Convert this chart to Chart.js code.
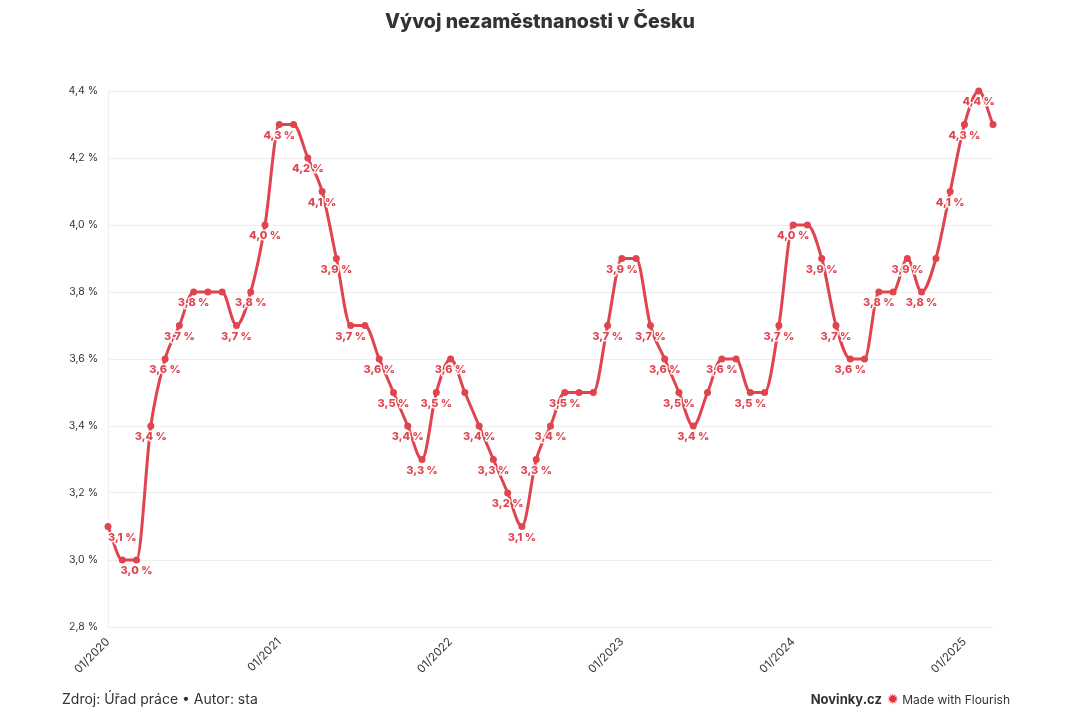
<!DOCTYPE html>
<html>
<head>
<meta charset="utf-8">
<script src="https://cdn.jsdelivr.net/npm/chart.js@4"></script>
<style>
  html, body { margin: 0; padding: 0; background: #fff; }
  #wrap { position: relative; width: 1080px; height: 720px; font-family: Inter, "Noto Sans", sans-serif; }
  #title { position: absolute; top: 9px; left: 0; width: 1080px; text-align: center; font-size: 19.5px; font-weight: 800; color: #333; }
  #source { position: absolute; left: 62px; top: 690px; font-size: 14px; color: #333; }
  #brand { position: absolute; right: 70px; top: 690px; font-size: 12px; color: #333; }
  #brand b { font-size: 13px; font-weight: 700; margin-right: 5px; }
  #brand .star { color: #e2333c; font-size: 14px; }
  canvas { position: absolute; left: 0; top: 0; }
</style>
</head>
<body>
<div id="wrap">
  <canvas id="graf" width="1080" height="720"></canvas>
  <div id="title">Vývoj nezaměstnanosti v Česku</div>
  <div id="source">Zdroj: Úřad práce • Autor: sta</div>
  <div id="brand"><b>Novinky.cz</b><span class="star">✹</span> Made with Flourish</div>
</div>
<script>
// měsíce (osa x)
const mesice = [
  "01/2020","02/2020","03/2020","04/2020","05/2020","06/2020","07/2020","08/2020","09/2020","10/2020","11/2020","12/2020",
  "01/2021","02/2021","03/2021","04/2021","05/2021","06/2021","07/2021","08/2021","09/2021","10/2021","11/2021","12/2021",
  "01/2022","02/2022","03/2022","04/2022","05/2022","06/2022","07/2022","08/2022","09/2022","10/2022","11/2022","12/2022",
  "01/2023","02/2023","03/2023","04/2023","05/2023","06/2023","07/2023","08/2023","09/2023","10/2023","11/2023","12/2023",
  "01/2024","02/2024","03/2024","04/2024","05/2024","06/2024","07/2024","08/2024","09/2024","10/2024","11/2024","12/2024",
  "01/2025","02/2025","03/2025"
];

// míra nezaměstnanosti v %
const nezamestnanost = [
  3.1, 3.0, 3.0, 3.4, 3.6, 3.7, 3.8, 3.8, 3.8, 3.7, 3.8, 4.0,
  4.3, 4.3, 4.2, 4.1, 3.9, 3.7, 3.7, 3.6, 3.5, 3.4, 3.3, 3.5,
  3.6, 3.5, 3.4, 3.3, 3.2, 3.1, 3.3, 3.4, 3.5, 3.5, 3.5, 3.7,
  3.9, 3.9, 3.7, 3.6, 3.5, 3.4, 3.5, 3.6, 3.6, 3.5, 3.5, 3.7,
  4.0, 4.0, 3.9, 3.7, 3.6, 3.6, 3.8, 3.8, 3.9, 3.8, 3.9, 4.1,
  4.3, 4.4, 4.3
];

// body, u kterých je vidět popisek
const popisky = [
  0, 2, 3, 4, 5, 6, 9, 10, 11,
  12, 14, 15, 16, 17, 19, 20, 21, 22, 23,
  24, 26, 27, 28, 29, 30, 31, 32, 35,
  36, 38, 39, 40, 41, 43, 45, 47,
  48, 50, 51, 52, 54, 56, 57, 59,
  60, 61
];

// tick labels osy y
const osaY = [2.8, 3.0, 3.2, 3.4, 3.6, 3.8, 4.0, 4.2, 4.4];

const cervena = "#e0444f";
const fmt = v => v.toFixed(1).replace(".", ",") + " %";

const popiskyPlugin = {
  id: "popisky",
  afterDatasetsDraw(chart) {
    const ctx = chart.ctx;
    const meta = chart.getDatasetMeta(0);
    const area = chart.chartArea;
    ctx.save();
    ctx.font = "800 11px Inter, sans-serif";
    ctx.textBaseline = "middle";
    ctx.textAlign = "center";
    ctx.lineJoin = "round";
    popisky.forEach(i => {
      const el = meta.data[i];
      const text = fmt(nezamestnanost[i]);
      const w = ctx.measureText(text).width;
      let x = el.x;
      if (x - w / 2 < area.left) x = area.left + w / 2;
      const y = el.y + 11;
      ctx.strokeStyle = "rgba(255,255,255,0.9)";
      ctx.lineWidth = 3;
      ctx.strokeText(text, x, y);
      ctx.fillStyle = cervena;
      ctx.fillText(text, x, y);
    });
    ctx.restore();
  }
};

new Chart(document.getElementById("graf"), {
  type: "line",
  data: {
    labels: mesice,
    datasets: [{
      data: nezamestnanost,
      borderColor: cervena,
      backgroundColor: cervena,
      borderWidth: 3,
      pointRadius: 3.5,
      pointBorderWidth: 0,
      cubicInterpolationMode: "monotone",
      clip: false
    }]
  },
  options: {
    responsive: false,
    animation: false,
    layout: { padding: { left: 0, right: 87, top: 91, bottom: 0 } },
    plugins: {
      legend: { display: false },
      tooltip: { enabled: false }
    },
    scales: {
      x: {
        offset: false,
        grid: { display: false },
        border: { display: false },
        ticks: {
          autoSkip: false,
          minRotation: 45,
          maxRotation: 45,
          color: "#333",
          padding: 0,
          font: { family: "Inter, sans-serif", size: 11.5 },
          callback: (v, i) => mesice[i].startsWith("01/") ? mesice[i] : ""
        },
        afterFit: s => { s.height = 93; }
      },
      y: {
        min: 2.8,
        max: 4.4,
        afterBuildTicks: s => { s.ticks = osaY.map(v => ({ value: v })); },
        grid: { color: "#eeeeee", drawTicks: false },
        border: { display: true, color: "#eeeeee" },
        ticks: {
          color: "#333",
          padding: 10,
          font: { family: "Inter, sans-serif", size: 10.5 },
          callback: v => fmt(v)
        },
        afterFit: s => { s.width = 108; }
      }
    }
  },
  plugins: [popiskyPlugin]
});
</script>
</body>
</html>
